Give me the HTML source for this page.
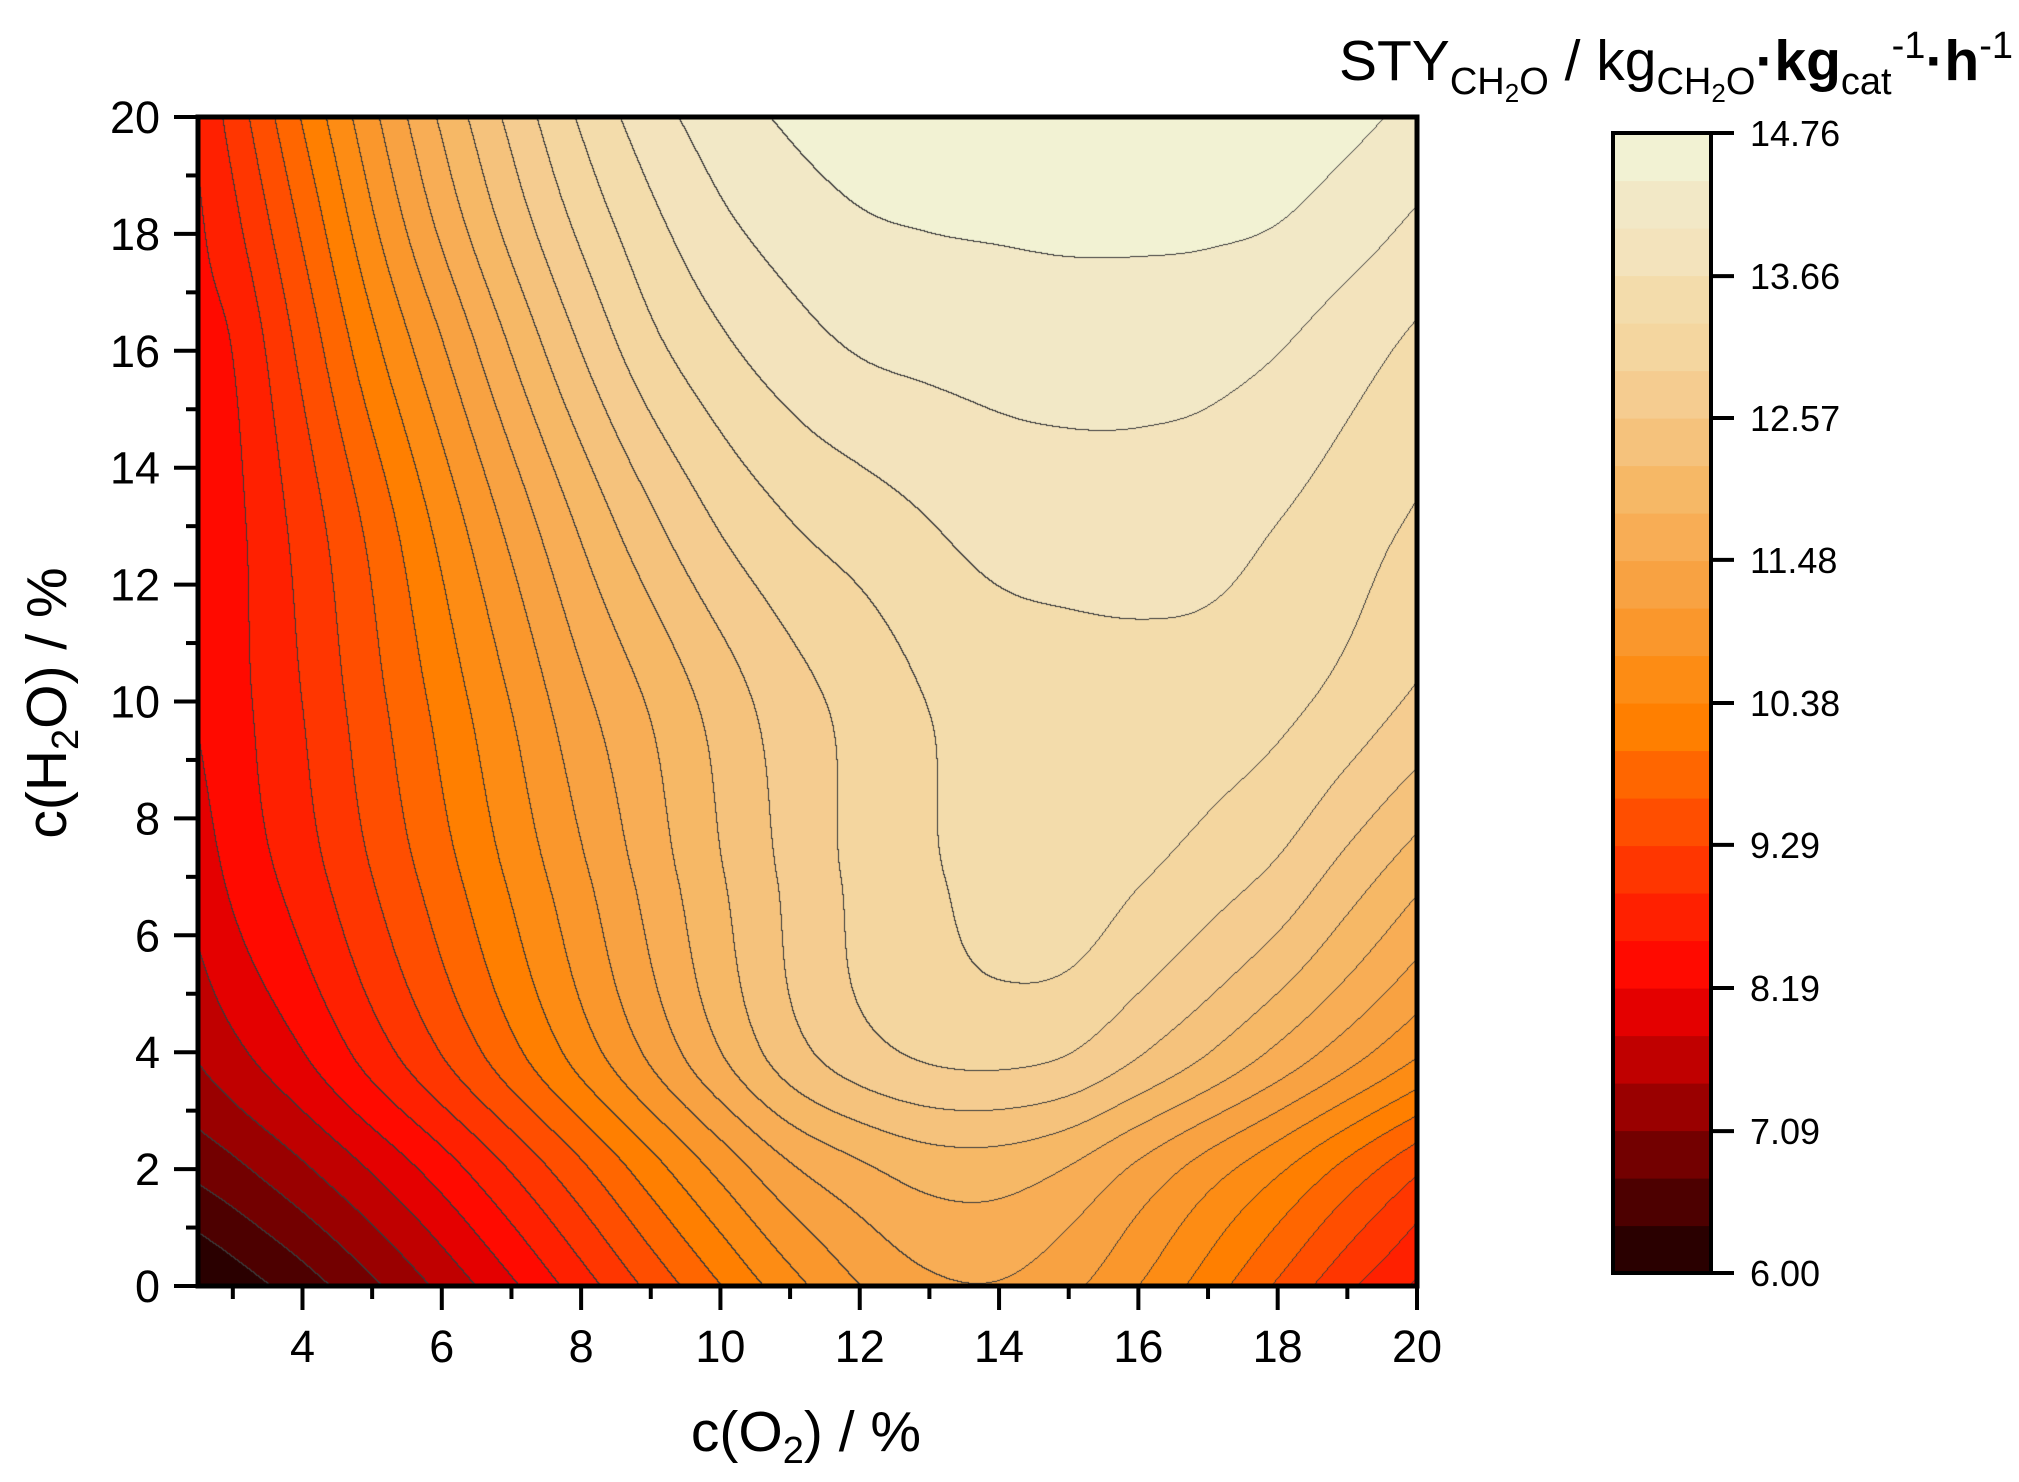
<!DOCTYPE html>
<html><head><meta charset="utf-8">
<style>
html,body{margin:0;padding:0;background:#fff;}
#wrap{position:relative;width:2019px;height:1482px;overflow:hidden;font-family:"Liberation Sans",sans-serif;}
canvas{position:absolute;left:198px;top:117px;}
svg{position:absolute;left:0;top:0;}
</style></head>
<body>
<div id="wrap">
<canvas id="plot" width="1219" height="1169"></canvas>
<svg id="ov" width="2019" height="1482"></svg>
</div>
<script>
// ---- data ----
const xGrid = [2.5,3,4,5,6,7,8,9,10,11,12,13,14,15,16,17,18,19,20];
const yGrid = [0,2,4,7,10,13,16,18.2,20];
const zRow0  = [5.95,6.15,6.55,7.02,7.55,8.12,8.74,9.38,10.0,10.6,11.1,11.4,11.45,11.2,10.75,10.2,9.6,9.0,8.5];
const zRow2  = [6.83,7.0,7.40,7.86,8.37,8.95,9.57,10.22,10.85,11.42,11.77,12.0,12.02,11.82,11.40,10.93,10.45,9.9,9.35];
const zRow4  = [7.50,7.73,8.18,8.73,9.30,9.91,10.55,11.19,11.83,12.42,12.80,13.0,13.05,12.95,12.61,12.22,11.77,11.29,10.8];
const zRow7  = [7.97,8.26,8.73,9.28,9.85,10.44,11.03,11.62,12.17,12.65,13.02,13.25,13.45,13.5,13.33,13.12,12.85,12.41,11.95];
const zRow10 = [8.22,8.42,8.92,9.52,10.14,10.76,11.38,11.88,12.36,12.78,13.06,13.31,13.45,13.5,13.52,13.5,13.4,13.17,12.87];
const zRow13 = [8.32,8.45,9.06,9.75,10.49,11.21,11.89,12.48,12.96,13.28,13.47,13.65,13.8,13.85,13.85,13.8,13.66,13.47,13.25];
const zRow16 = [8.43,8.56,9.38,10.26,11.06,11.85,12.57,13.18,13.58,13.86,14.05,14.12,14.16,14.18,14.18,14.15,14.04,13.82,13.58];
const zRow18 = [8.50,8.82,9.72,10.69,11.57,12.35,13.03,13.57,13.96,14.2,14.36,14.42,14.45,14.48,14.48,14.46,14.4,14.22,13.98];
const zRow20 = [8.60,9.05,10.04,11.01,11.90,12.67,13.35,13.87,14.22,14.45,14.6,14.68,14.72,14.75,14.75,14.7,14.62,14.5,14.3];
const zMin = 6.00, zMax = 14.76, nLevels = 24;
const bandColors = ["#2a0000","#4d0000","#730000","#9a0000","#c00000","#e40000","#ff0a00","#ff2000","#ff3600","#ff4e00","#ff6600","#ff7f00","#fd8c14","#fa972c","#f8a242","#f8ad55","#f6b866","#f5c27c","#f5cc90","#f4d69f","#f3dcab","#f3e3bc","#f2e8c6","#f2f2d3"];
const xTicks = [4,6,8,10,12,14,16,18,20];
const yTicks = [0,2,4,6,8,10,12,14,16,18,20];
const cbLabels = ["6.00","7.09","8.19","9.29","10.38","11.48","12.57","13.66","14.76"];

const zRows = [zRow0,zRow2,zRow4,zRow7,zRow10,zRow13,zRow16,zRow18,zRow20];
// ---- geometry ----
const PL=198, PR=1417, PT=117, PB=1286, X0=2.5, X1=20, Y0=0, Y1=20;
const sx = v => PL + (v-X0)/(X1-X0)*(PR-PL);
const sy = v => PB - (v-Y0)/(Y1-Y0)*(PB-PT);

function hermite(xs, vs, x){
  const n=xs.length;
  let i=0; while(i<n-2 && x>xs[i+1]) i++;
  const h=xs[i+1]-xs[i], t=Math.max(0,Math.min(1,(x-xs[i])/h));
  const slope=k=>{
    if(k===0) return (vs[1]-vs[0])/(xs[1]-xs[0]);
    if(k===n-1) return (vs[n-1]-vs[n-2])/(xs[n-1]-xs[n-2]);
    return (vs[k+1]-vs[k-1])/(xs[k+1]-xs[k-1]);
  };
  const m0=slope(i)*h, m1=slope(i+1)*h;
  const t2=t*t,t3=t2*t;
  return (2*t3-3*t2+1)*vs[i]+(t3-2*t2+t)*m0+(-2*t3+3*t2)*vs[i+1]+(t3-t2)*m1;
}
function hexRgb(h){return [parseInt(h.substr(1,2),16),parseInt(h.substr(3,2),16),parseInt(h.substr(5,2),16)];}
const rgb = bandColors.map(hexRgb);

(function draw(){
  const cv=document.getElementById('plot'), ctx=cv.getContext('2d');
  const W=cv.width,H=cv.height;
  const rowsInterp = zRows.map(r=>{const a=new Float32Array(W);for(let px=0;px<W;px++){a[px]=hermite(xGrid,r,X0+(px+0.5)/W*(X1-X0));}return a;});
  const band=new Int8Array(W*H);
  const step=(zMax-zMin)/nLevels;
  for(let px=0;px<W;px++){
    const col=rowsInterp.map(a=>a[px]);
    for(let py=0;py<H;py++){
      const y=Y1-(py+0.5)/H*(Y1-Y0);
      const v=hermite(yGrid,col,y);
      let b=Math.floor((v-zMin)/step); if(b<0)b=0; if(b>nLevels-1)b=nLevels-1;
      band[py*W+px]=b;
    }
  }
  const img=ctx.createImageData(W,H), d=img.data;
  for(let py=0;py<H;py++)for(let px=0;px<W;px++){
    const i=py*W+px,b=band[i];
    let c=rgb[b];
    const edge=(px<W-1&&band[i+1]!==b)||(py<H-1&&band[i+W]!==b);
    if(edge)c=[58,58,58];
    d[i*4]=c[0];d[i*4+1]=c[1];d[i*4+2]=c[2];d[i*4+3]=255;
  }
  ctx.putImageData(img,0,0);
})();

// ---- axes / colorbar (SVG) ----
const NS="http://www.w3.org/2000/svg", svg=document.getElementById('ov');
function mk(tag,attrs,parent){const e=document.createElementNS(NS,tag);for(const k in attrs)e.setAttribute(k,attrs[k]);(parent||svg).appendChild(e);return e;}

const frame=mk('rect',{x:PL,y:PT,width:PR-PL,height:PB-PT,fill:'none',stroke:'#000','stroke-width':5});



for(let v=3;v<20;v+=2){const t=mk('line',{x1:sx(v),x2:sx(v),y1:PB,y2:PB+13,stroke:'#000','stroke-width':4});

}
xTicks.forEach(v=>{
  const t=mk('line',{x1:sx(v),x2:sx(v),y1:PB,y2:PB+24,stroke:'#000','stroke-width':4});
  
  
  const l=mk('text',{x:sx(v),y:1362,'font-size':45,'text-anchor':'middle',fill:'#000'});
  l.textContent=String(v);
  
  
});
for(let v=1;v<20;v+=2){const t=mk('line',{x1:PL-12,x2:PL,y1:sy(v),y2:sy(v),stroke:'#000','stroke-width':4});

}
yTicks.forEach(v=>{
  const t=mk('line',{x1:PL-24,x2:PL,y1:sy(v),y2:sy(v),stroke:'#000','stroke-width':4});
  
  
  const l=mk('text',{x:160,y:sy(v)+16,'font-size':45,'text-anchor':'end',fill:'#000'});
  l.textContent=String(v);
  
  
});

// colorbar
const CBL=1613, CBR=1711, CBT=133, CBB=1273;
const cbY = v => CBB-(v-zMin)/(zMax-zMin)*(CBB-CBT);
const stepC=(zMax-zMin)/nLevels;
bandColors.forEach((c,i)=>{
  const y1=cbY(zMin+(i+1)*stepC), y0=cbY(zMin+i*stepC);
  const r=mk('rect',{x:CBL,y:y1,width:CBR-CBL,height:y0-y1+0.6,fill:c});
  
  
});
const cbf=mk('rect',{x:CBL,y:CBT,width:CBR-CBL,height:CBB-CBT,fill:'none',stroke:'#000','stroke-width':4});


cbLabels.forEach(s=>{
  const y=cbY(parseFloat(s));
  const t=mk('line',{x1:CBR,x2:CBR+23,y1:y,y2:y,stroke:'#000','stroke-width':4});
  
  
  const l=mk('text',{x:1750,y:y+13,'font-size':36,fill:'#000'});
  l.textContent=s;
  
  
});
</script>
<svg width="2019" height="1482" style="position:absolute;left:0;top:0;pointer-events:none">
  <text x="806" y="1451" font-size="57" text-anchor="middle" font-family="Liberation Sans, sans-serif">c(O<tspan font-size="38" dy="12">2</tspan><tspan dy="-12">) / %</tspan></text>
  <text transform="translate(66,703) rotate(-90)" font-size="57" text-anchor="middle" font-family="Liberation Sans, sans-serif">c(H<tspan font-size="38" dy="12">2</tspan><tspan dy="-12">O) / %</tspan></text>
  <text x="2013" y="80" font-size="57" text-anchor="end" font-family="Liberation Sans, sans-serif">STY<tspan font-size="38" dy="14">CH</tspan><tspan font-size="26" dy="8">2</tspan><tspan font-size="38" dy="-8">O</tspan><tspan dy="-14"> / kg</tspan><tspan font-size="38" dy="14">CH</tspan><tspan font-size="26" dy="8">2</tspan><tspan font-size="38" dy="-8">O</tspan><tspan dy="-14" font-weight="bold">·kg</tspan><tspan font-size="38" dy="14">cat</tspan><tspan font-size="38" dy="-36">-1</tspan><tspan dy="22" font-weight="bold">·h</tspan><tspan font-size="38" dy="-22">-1</tspan></text>
</svg>
</body></html>
